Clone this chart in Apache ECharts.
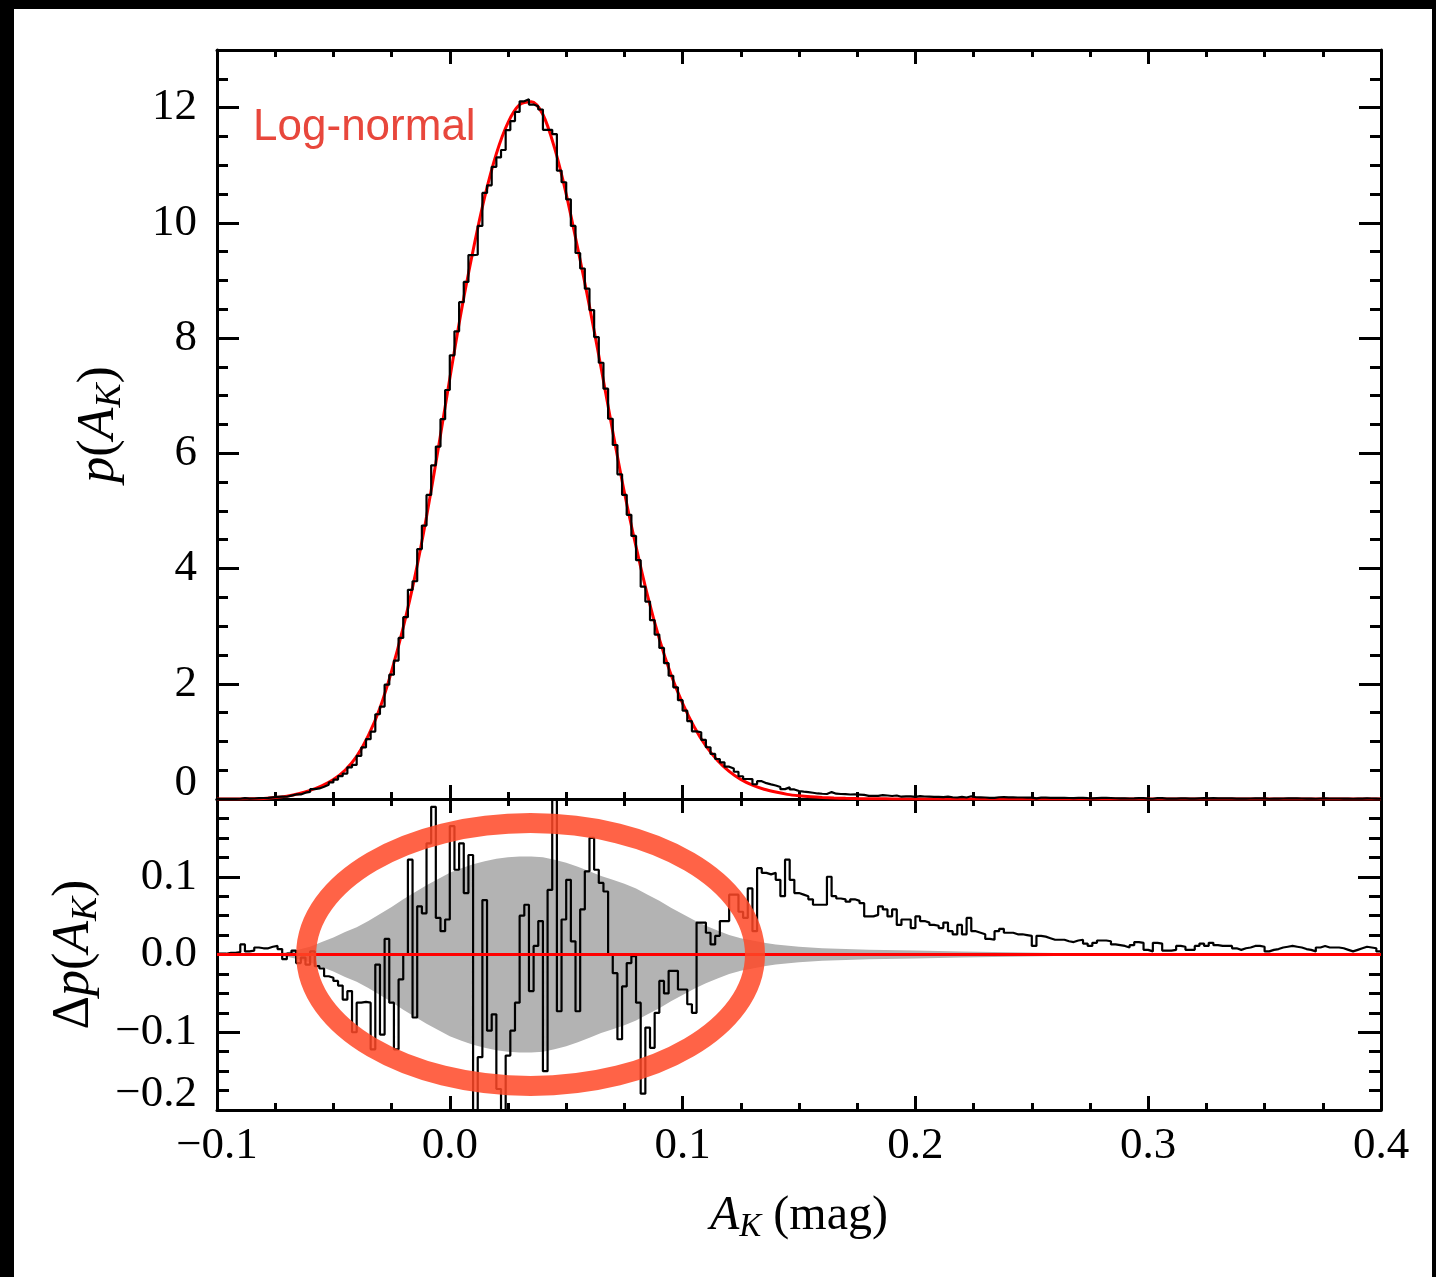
<!DOCTYPE html>
<html>
<head>
<meta charset="utf-8">
<script src="https://cdn.jsdelivr.net/npm/echarts@6/dist/echarts.min.js"></script>
<style>
html,body{margin:0;padding:0;background:#000;width:1436px;height:1277px;overflow:hidden;}
#paper{position:absolute;left:14px;top:9px;width:1418px;height:1268px;background:#fff;}
#chart{position:absolute;left:0;top:0;width:1436px;height:1277px;}
</style>
</head>
<body>
<div id="paper"></div>
<div id="chart"></div>
<script>
// ---------------- DATA ----------------
const X_MIN = -0.1, X_MAX = 0.4;
const X_TICKS = [-0.1, 0.0, 0.1, 0.2, 0.3, 0.4];
const TOP_Y_TICKS = [0, 2, 4, 6, 8, 10, 12];
const BOT_Y_TICKS = [-0.2, -0.1, 0.0, 0.1];

// histogram bins: 250 bins of width 0.002 starting at -0.1
const BIN_START = -0.1;
const BIN_WIDTH = 0.002;

// p(A_K) histogram (top panel), one value per bin
const HIST_TOP = [
0.001,0.001,0.002,0.002,0.004,0.015,0.007,0.009,0.015,0.017,
0.021,0.029,0.036,0.042,0.039,0.059,0.079,0.079,0.110,0.125,
0.170,0.183,0.212,0.246,0.288,0.338,0.396,0.442,0.549,0.592,
0.750,0.895,1.038,1.170,1.471,1.605,1.984,2.158,2.402,2.796,
3.156,3.630,3.779,4.338,4.745,5.277,5.792,6.117,6.592,7.099,
7.701,8.117,8.623,8.975,9.440,9.446,9.946,10.520,10.652,10.973,
11.135,11.264,11.610,11.766,11.926,12.110,12.144,12.053,12.023,11.967,
11.614,11.615,11.540,10.907,10.705,10.406,9.947,9.477,9.208,8.857,
8.486,8.017,7.572,7.121,6.600,6.144,5.635,5.279,4.933,4.566,
4.146,3.685,3.426,3.104,2.853,2.622,2.358,2.139,1.939,1.715,
1.533,1.350,1.175,1.159,1.027,0.898,0.783,0.694,0.637,0.561,
0.529,0.473,0.395,0.347,0.345,0.256,0.309,0.275,0.253,0.235,
0.208,0.171,0.202,0.166,0.139,0.128,0.119,0.108,0.096,0.091,
0.087,0.120,0.092,0.087,0.083,0.078,0.080,0.076,0.072,0.054,
0.054,0.055,0.066,0.061,0.052,0.061,0.040,0.047,0.047,0.036,
0.050,0.043,0.041,0.038,0.037,0.034,0.041,0.030,0.026,0.038,
0.026,0.047,0.030,0.028,0.026,0.020,0.019,0.030,0.033,0.028,
0.028,0.026,0.026,0.025,0.024,0.011,0.024,0.023,0.021,0.019,
0.019,0.019,0.017,0.016,0.018,0.019,0.014,0.011,0.015,0.018,
0.018,0.017,0.013,0.012,0.011,0.009,0.012,0.016,0.015,0.006,
0.004,0.015,0.014,0.005,0.005,0.006,0.011,0.010,0.006,0.006,
0.011,0.014,0.011,0.015,0.012,0.011,0.011,0.011,0.008,0.006,
0.008,0.009,0.011,0.011,0.010,0.004,0.006,0.007,0.009,0.010,
0.011,0.010,0.009,0.007,0.006,0.004,0.009,0.011,0.009,0.009,
0.009,0.008,0.006,0.004,0.006,0.008,0.010,0.009,0.008,0.004
];

// residual Δp(A_K) (bottom panel), one value per bin
const RESID = [
0.001,0.001,0.002,0.002,0.003,0.013,0.004,0.005,0.009,0.008,
0.008,0.010,0.011,0.007,-0.006,0.001,0.005,-0.011,-0.004,-0.013,
0.004,-0.015,-0.018,-0.028,-0.030,-0.034,-0.040,-0.058,-0.047,-0.100,
-0.062,-0.061,-0.062,-0.122,-0.013,-0.103,0.020,-0.062,-0.122,-0.032,
0.000,0.122,-0.081,0.062,0.053,0.143,0.190,0.047,0.030,0.045,
0.165,0.109,0.143,0.079,0.128,-0.260,-0.132,0.070,-0.098,-0.077,
-0.173,-0.260,-0.130,-0.098,-0.062,0.050,0.064,-0.047,0.011,0.043,
-0.150,0.083,0.240,-0.073,0.045,0.096,0.017,-0.073,0.058,0.107,
0.150,0.109,0.092,0.081,0.000,-0.024,-0.109,-0.041,-0.011,-0.002,
-0.062,-0.179,-0.094,-0.120,-0.075,-0.034,-0.050,-0.021,-0.021,-0.045,
-0.045,-0.064,-0.075,0.041,0.041,0.028,0.013,0.024,0.043,0.043,
0.077,0.077,0.055,0.047,0.085,0.030,0.111,0.105,0.103,0.105,
0.096,0.075,0.122,0.096,0.079,0.077,0.075,0.071,0.064,0.064,
0.064,0.100,0.075,0.072,0.071,0.068,0.071,0.069,0.066,0.049,
0.049,0.051,0.062,0.058,0.049,0.058,0.038,0.045,0.045,0.034,
0.049,0.043,0.041,0.038,0.037,0.034,0.041,0.030,0.026,0.038,
0.026,0.047,0.030,0.028,0.026,0.020,0.019,0.030,0.033,0.028,
0.028,0.026,0.026,0.025,0.024,0.011,0.024,0.023,0.021,0.019,
0.019,0.019,0.017,0.016,0.018,0.019,0.014,0.011,0.015,0.018,
0.018,0.017,0.013,0.012,0.011,0.009,0.012,0.016,0.015,0.006,
0.004,0.015,0.014,0.005,0.005,0.006,0.011,0.010,0.006,0.006,
0.011,0.014,0.011,0.015,0.012,0.011,0.011,0.011,0.008,0.006,
0.008,0.009,0.011,0.011,0.010,0.004,0.006,0.007,0.009,0.010,
0.011,0.010,0.009,0.007,0.006,0.004,0.009,0.011,0.009,0.009,
0.009,0.008,0.006,0.004,0.006,0.008,0.010,0.009,0.008,0.004
];

// Log-normal model curve (red)
const MODEL_X = [
-0.100,-0.095,-0.090,-0.085,-0.080,-0.075,-0.070,-0.065,-0.060,-0.055,
-0.050,-0.045,-0.040,-0.035,-0.030,-0.025,-0.020,-0.015,-0.010,-0.005,
0.000,0.005,0.010,0.015,0.020,0.025,0.030,0.035,0.040,0.045,
0.050,0.055,0.060,0.065,0.070,0.075,0.080,0.085,0.090,0.095,
0.100,0.105,0.110,0.115,0.120,0.125,0.130,0.135,0.140,0.145,
0.150,0.155,0.160,0.165,0.170,0.175,0.180,0.185,0.190,0.195,
0.200,0.250,0.300,0.350,0.400
];
const MODEL_Y = [
0.000,0.000,0.001,0.004,0.010,0.025,0.050,0.090,0.150,0.230,
0.340,0.500,0.740,1.100,1.580,2.220,2.980,3.860,4.900,6.070,
7.300,8.480,9.520,10.450,11.200,11.740,12.050,12.100,11.880,11.300,
10.500,9.550,8.550,7.480,6.380,5.320,4.380,3.520,2.780,2.160,
1.660,1.250,0.920,0.670,0.480,0.340,0.240,0.170,0.120,0.080,
0.055,0.037,0.025,0.017,0.011,0.007,0.005,0.003,0.002,0.001,
0.001,0.000,0.000,0.000,0.000
];

// grey uncertainty band (half-width, symmetric about zero)
const BAND_X = [
-0.080,-0.075,-0.070,-0.065,-0.060,-0.055,-0.050,-0.045,-0.040,-0.035,
-0.030,-0.025,-0.020,-0.015,-0.010,-0.005,0.000,0.005,0.010,0.015,
0.020,0.025,0.030,0.035,0.040,0.045,0.050,0.055,0.060,0.065,
0.070,0.075,0.080,0.085,0.090,0.095,0.100,0.105,0.110,0.115,
0.120,0.125,0.130,0.135,0.140,0.150,0.160,0.170,0.180,0.200,
0.220,0.240,0.260,0.280,0.300
];
const BAND_HW = [
0.000,0.001,0.003,0.006,0.010,0.016,0.022,0.029,0.035,0.043,
0.052,0.061,0.071,0.080,0.089,0.097,0.105,0.111,0.116,0.120,
0.123,0.125,0.126,0.126,0.125,0.122,0.118,0.113,0.107,0.101,
0.096,0.091,0.085,0.077,0.069,0.060,0.052,0.044,0.037,0.031,
0.025,0.021,0.018,0.015,0.013,0.010,0.008,0.007,0.006,0.005,
0.004,0.003,0.002,0.001,0.000
];

// zero reference line of the residual panel
const ZERO_X = [-0.1, 0.4];
const ZERO_Y = [0, 0];

// hand-drawn highlight ring (data coordinates of the residual panel)
const RING = { cx: 0.0347, cy: 0.0, rx: 0.0964, ry: 0.169 };

// ---------------- BUILD ----------------
const SERIF = '"Liberation Serif","Times New Roman",Times,serif';
const SANS = '"Liberation Sans",Arial,Helvetica,sans-serif';
const LABEL_SIZE = 45;

function edgeSeries(vals) {
  const out = vals.map((v, i) => [Number((BIN_START + i * BIN_WIDTH).toFixed(4)), v]);
  out.push([Number((BIN_START + vals.length * BIN_WIDTH).toFixed(4)), vals[vals.length - 1]]);
  return out;
}
function fmtNum(v) {
  if (Math.abs(v) < 1e-9) return '0.0';
  return (v < 0 ? '\u2212' : '') + Math.abs(v).toFixed(1);
}
const near = (a, list) => list.some(t => Math.abs(t - a) < 1e-6);

function titleRich(size, sub) {
  return {
    n: { fontFamily: SERIF, fontSize: size, color: '#000', lineHeight: size + 8 },
    i: { fontFamily: SERIF, fontSize: size, fontStyle: 'italic', color: '#000', lineHeight: size + 8 },
    s: { fontFamily: SERIF, fontSize: sub, fontStyle: 'italic', color: '#000', lineHeight: sub - 4, verticalAlign: 'bottom' }
  };
}

const axisLineStyle = { show: true, onZero: false, lineStyle: { color: '#000', width: 3 } };

function xAxisDef(grid, pos, withLabels) {
  const a = {
    type: 'value', gridIndex: grid, position: pos, min: X_MIN, max: X_MAX, interval: 0.1,
    axisLine: axisLineStyle,
    axisTick: { show: true, inside: true, length: 14, lineStyle: { color: '#000', width: 3 } },
    minorTick: { show: true, splitNumber: 4, length: 7, lineStyle: { color: '#000', width: 3 } },
    splitLine: { show: false }, minorSplitLine: { show: false },
    axisLabel: { show: false }
  };
  if (withLabels) {
    a.axisLabel = {
      show: true, margin: 14, fontFamily: SERIF, fontSize: LABEL_SIZE, color: '#000',
      formatter: v => near(v, X_TICKS) ? fmtNum(v) : ''
    };
    a.name = '{i|A}{s|K}{n| (mag)}';
    a.nameLocation = 'middle';
    a.nameGap = 78;
    a.nameTextStyle = { rich: titleRich(48, 33) };
  }
  return a;
}

function yTopMajor(pos, withLabels) {
  const a = {
    type: 'value', gridIndex: 0, position: pos, min: 0, max: 13, interval: 2,
    axisLine: axisLineStyle,
    axisTick: { show: true, inside: true, length: 22, lineStyle: { color: '#000', width: 3 } },
    splitLine: { show: false },
    axisLabel: { show: false }
  };
  if (withLabels) {
    a.axisLabel = {
      show: true, margin: 20, fontFamily: SERIF, fontSize: LABEL_SIZE, color: '#000',
      formatter: v => !near(v, TOP_Y_TICKS) ? '' : (v === 0 ? '{z|0}' : String(v)),
      rich: { z: { fontFamily: SERIF, fontSize: LABEL_SIZE, color: '#000', padding: [0, 0, 32, 0] } }
    };
    a.name = '{i|p}{n|(}{i|A}{s|K}{n|)}';
    a.nameLocation = 'middle';
    a.nameGap = 88;
    a.nameTextStyle = { rich: titleRich(52, 36) };
  }
  return a;
}
function yTopMinor(pos) {
  return {
    type: 'value', gridIndex: 0, position: pos, min: 0, max: 13, interval: 0.5,
    axisLine: { show: false, onZero: false },
    axisTick: { show: true, inside: true, length: 11, lineStyle: { color: '#000', width: 3 } },
    splitLine: { show: false }, axisLabel: { show: false }
  };
}
function yBot(pos, withLabels) {
  const a = {
    type: 'value', gridIndex: 1, position: pos, min: -0.2, max: 0.2, interval: 0.1,
    axisLine: axisLineStyle,
    axisTick: { show: true, inside: true, length: 23, lineStyle: { color: '#000', width: 3 } },
    minorTick: { show: true, splitNumber: 4, length: 12, lineStyle: { color: '#000', width: 3 } },
    splitLine: { show: false }, minorSplitLine: { show: false },
    axisLabel: { show: false }
  };
  if (withLabels) {
    a.axisLabel = {
      show: true, margin: 20, fontFamily: SERIF, fontSize: LABEL_SIZE, color: '#000',
      formatter: v => !near(v, BOT_Y_TICKS) ? '' : (near(v, [-0.2]) ? '{z|' + fmtNum(v) + '}' : fmtNum(v)),
      rich: { z: { fontFamily: SERIF, fontSize: LABEL_SIZE, color: '#000', padding: [0, 0, 32, 0] } }
    };
    a.name = '{n|\u0394}{i|p}{n|(}{i|A}{s|K}{n|)}';
    a.nameLocation = 'middle';
    a.nameGap = 90;
    a.nameTextStyle = { rich: titleRich(52, 36) };
  }
  return a;
}

const modelData = MODEL_X.map((x, i) => [x, MODEL_Y[i]]);
const bandData = BAND_X.map((x, i) => [x, BAND_HW[i]]);
const zeroData = ZERO_X.map((x, i) => [x, ZERO_Y[i]]);

function renderBand(params, api) {
  if (params.dataIndex !== 0) return null;
  const upper = bandData.map(d => api.coord([d[0], d[1]]));
  const lower = bandData.map(d => api.coord([d[0], -d[1]])).reverse();
  return {
    type: 'polygon',
    shape: { points: upper.concat(lower) },
    style: { fill: '#b3b3b3', stroke: null }
  };
}

const option = {
  animation: false,
  backgroundColor: 'transparent',
  grid: [
    { left: 217, top: 50, width: 1164, height: 749 },
    { left: 217, top: 799, width: 1164, height: 311 }
  ],
  xAxis: [
    xAxisDef(0, 'bottom', false),
    xAxisDef(0, 'top', false),
    xAxisDef(1, 'bottom', true),
    xAxisDef(1, 'top', false)
  ],
  yAxis: [
    yTopMajor('left', true),
    yTopMinor('left'),
    yTopMajor('right', false),
    yTopMinor('right'),
    yBot('left', true),
    yBot('right', false)
  ],
  series: [
    { type: 'line', name: 'model', xAxisIndex: 0, yAxisIndex: 0, data: modelData, smooth: 0.3,
      symbol: 'none', silent: true, lineStyle: { color: '#ff0000', width: 3 }, z: 2 },
    { type: 'line', name: 'hist', xAxisIndex: 0, yAxisIndex: 0, data: edgeSeries(HIST_TOP), step: 'end',
      symbol: 'none', silent: true, lineStyle: { color: '#000', width: 2.2 }, z: 3 },
    { type: 'custom', name: 'band', xAxisIndex: 2, yAxisIndex: 4, data: bandData,
      renderItem: renderBand, clip: true, silent: true, z: 1 },
    { type: 'line', name: 'resid', xAxisIndex: 2, yAxisIndex: 4, data: edgeSeries(RESID), step: 'end',
      symbol: 'none', silent: true, lineStyle: { color: '#000', width: 2.2 }, z: 3 },
    { type: 'line', name: 'zero', xAxisIndex: 2, yAxisIndex: 4, data: zeroData,
      symbol: 'none', silent: true, lineStyle: { color: '#ff0000', width: 3 }, z: 4 }
  ]
};

const chart = echarts.init(document.getElementById('chart'), null, { renderer: 'canvas' });
chart.setOption(option);

// annotations placed via the axes' own scales
const c = chart.convertToPixel({ xAxisIndex: 2, yAxisIndex: 4 }, [RING.cx, RING.cy]);
const e = chart.convertToPixel({ xAxisIndex: 2, yAxisIndex: 4 }, [RING.cx + RING.rx, RING.cy + RING.ry]);
const rx = Math.abs(e[0] - c[0]), ry = Math.abs(e[1] - c[1]);
const lbl = chart.convertToPixel({ xAxisIndex: 0, yAxisIndex: 0 }, [-0.0845, 11.64]);

chart.setOption({
  graphic: [
    { type: 'ellipse', z: 100, silent: true,
      shape: { cx: c[0], cy: c[1], rx: rx, ry: ry },
      style: { fill: null, stroke: 'rgba(255,72,39,0.85)', lineWidth: 20 } },
    { type: 'text', z: 100, silent: true, x: lbl[0], y: lbl[1],
      style: { text: 'Log-normal', font: '44px ' + SANS, fill: '#e8473c', textVerticalAlign: 'middle', textAlign: 'left' } }
  ]
});
</script>
</body>
</html>
